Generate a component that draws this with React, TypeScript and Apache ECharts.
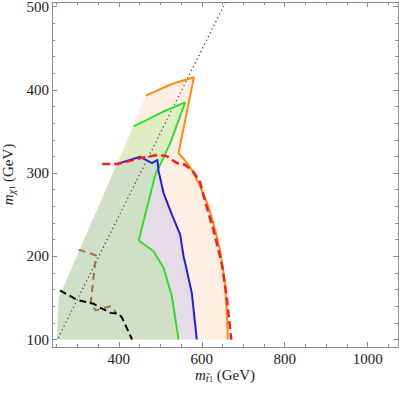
import React, { useEffect, useRef } from "react";
import * as echarts from "echarts";

// axis ranges and ticks
const xRange = [239, 1073];
const yRange = [91, 505.5];
const xMajor = [400, 600, 800, 1000];
const xMinor = [250, 300, 350, 450, 500, 550, 650, 700, 750, 850, 900, 950, 1050];
const yMajor = [100, 200, 300, 400, 500];
const yMinor = [120, 140, 160, 180, 220, 240, 260, 280, 320, 340, 360, 380, 420, 440, 460, 480];

// curves (m_stop, m_chi)
const leftEdge = [[251, 100], [255, 150]];
const orangeLine = [[465, 393], [528, 407], [581, 415], [544, 324], [558, 316], [576, 304], [596, 284], [616, 260], [632, 232], [644, 208], [655, 172], [660, 136], [663, 100]];
const greenLine = [[436, 356], [504, 373], [560, 385], [524, 336], [488, 298], [448, 219], [484, 206], [508, 186], [528, 152], [544, 100]];
const blueLine = [[396, 311], [452, 319.5], [480, 312], [493, 316], [496, 302], [508, 276], [528, 250], [548, 226], [556, 200], [560, 192], [576, 156], [588, 100]];
const redDashed = [[360, 311], [399, 311], [452, 318], [496, 322], [516, 320], [540, 312], [560, 310], [579, 302], [596, 289], [608, 266], [628, 232], [648, 192], [660, 152], [671, 100]];
const blackDashed = [[258, 159], [300, 147.5], [339, 143], [356, 138], [380, 132], [400, 131], [408, 126], [432, 100]];
const brownDashed = [[303, 208], [345, 201], [332, 143], [344, 135], [380, 140], [394, 132]];
const diagonal = [[254, 102], [657, 505]];

const FONT = "Liberation Serif";
const FRAME = "#8c8c8c";
const TEXT = "#222";

function polySeries(pts: number[][], fill: string) {
  return {
    type: "custom",
    coordinateSystem: "cartesian2d",
    xAxisIndex: 0,
    yAxisIndex: 0,
    clip: true,
    silent: true,
    data: [[pts[0][0], pts[0][1]]],
    renderItem: (_p: any, api: any) => ({
      type: "polygon",
      shape: { points: pts.map((p) => api.coord(p)) },
      style: { fill, stroke: "none" },
    }),
  };
}

function lineSeries(data: number[][], color: string, width: number, type: any) {
  return {
    type: "line",
    xAxisIndex: 0,
    yAxisIndex: 0,
    data,
    symbol: "none",
    showSymbol: false,
    silent: true,
    clip: true,
    lineStyle: { color, width, type },
  };
}

const fmt = (v: number) => String(v);

function xAxisDef(position: string, ticks: number[], len: number, labels: boolean, showLine: boolean, extra: any = {}) {
  return {
    type: "value",
    position,
    min: xRange[0],
    max: xRange[1],
    axisLine: { show: showLine, onZero: false, lineStyle: { color: FRAME, width: 1 } },
    axisTick: { show: true, inside: true, length: len, customValues: ticks, lineStyle: { color: FRAME, width: 1 } },
    axisLabel: labels
      ? { show: true, customValues: ticks, formatter: fmt, margin: 4, fontFamily: FONT, fontSize: 15, color: TEXT }
      : { show: false },
    splitLine: { show: false },
    ...extra,
  };
}

function yAxisDef(position: string, ticks: number[], len: number, labels: boolean, showLine: boolean, extra: any = {}) {
  return {
    type: "value",
    position,
    min: yRange[0],
    max: yRange[1],
    axisLine: { show: showLine, onZero: false, lineStyle: { color: FRAME, width: 1 } },
    axisTick: { show: true, inside: true, length: len, customValues: ticks, lineStyle: { color: FRAME, width: 1 } },
    axisLabel: labels
      ? { show: true, customValues: ticks, formatter: fmt, margin: 3, fontFamily: FONT, fontSize: 15, color: TEXT }
      : { show: false },
    splitLine: { show: false },
    ...extra,
  };
}

const nameRich = {
  i: { fontFamily: FONT, fontStyle: "italic", fontSize: 15, lineHeight: 16, color: TEXT },
  s: { fontFamily: FONT, fontStyle: "italic", fontSize: 11, lineHeight: 11, verticalAlign: "bottom", color: TEXT },
  ss: { fontFamily: FONT, fontSize: 8, lineHeight: 7, verticalAlign: "bottom", color: TEXT },
  r: { fontFamily: FONT, fontSize: 15, lineHeight: 16, color: TEXT },
};

export default function App() {
  const ref = useRef<HTMLDivElement>(null);
  useEffect(() => {
    if (!ref.current) return;
    const chart = echarts.init(ref.current, null, { renderer: "svg" });
    chart.setOption({
      animation: false,
      backgroundColor: "#ffffff",
      grid: { left: 52, right: 1, top: 2, bottom: 46, containLabel: false, outerBoundsMode: "none" },
      xAxis: [
        xAxisDef("bottom", xMajor, 5, true, true, {
          name: "{i|m}{s|t\u0303}{ss|1}{r| (GeV)}",
          nameLocation: "middle",
          nameGap: 20,
          nameMoveOverlap: false,
          nameTextStyle: { rich: nameRich, fontFamily: FONT, fontSize: 15, color: TEXT },
        }),
        xAxisDef("bottom", xMinor, 3, false, false),
        xAxisDef("top", xMajor, 5, false, true),
        xAxisDef("top", xMinor, 3, false, false),
      ],
      yAxis: [
        yAxisDef("left", yMajor, 5, true, true, {
          name: "{i|m}{s|\u03c7}{ss|1}{r| (GeV)}",
          nameLocation: "middle",
          nameRotate: 90,
          nameGap: 36,
          nameMoveOverlap: false,
          nameTextStyle: { rich: nameRich, fontFamily: FONT, fontSize: 15, color: TEXT },
        }),
        yAxisDef("left", yMinor, 3, false, false),
        yAxisDef("right", yMajor, 5, false, true),
        yAxisDef("right", yMinor, 3, false, false),
      ],
      series: [
        polySeries([...leftEdge, ...orangeLine], "rgba(255,160,90,0.17)"),
        polySeries([...leftEdge, ...blueLine], "rgba(155,163,247,0.25)"),
        polySeries([...leftEdge, ...greenLine], "rgba(160,235,130,0.33)"),
        lineSeries(diagonal, "#444444", 1.3, [1.2, 3]),
        lineSeries(orangeLine, "#ff8a14", 2, "solid"),
        lineSeries(greenLine, "#2ee02e", 2, "solid"),
        lineSeries(blueLine, "#2020dd", 2, "solid"),
        lineSeries(brownDashed, "#a0703c", 2, [7, 5]),
        lineSeries(blackDashed, "#000000", 2, [7, 4]),
        lineSeries(redDashed, "#ff1a1a", 2.5, [8, 4]),
      ],
    });
    return () => chart.dispose();
  }, []);
  return (
    <div
      ref={ref}
      style={{ position: "fixed", left: 0, top: 0, width: 399, height: 393, background: "#fff" }}
    />
  );
}
